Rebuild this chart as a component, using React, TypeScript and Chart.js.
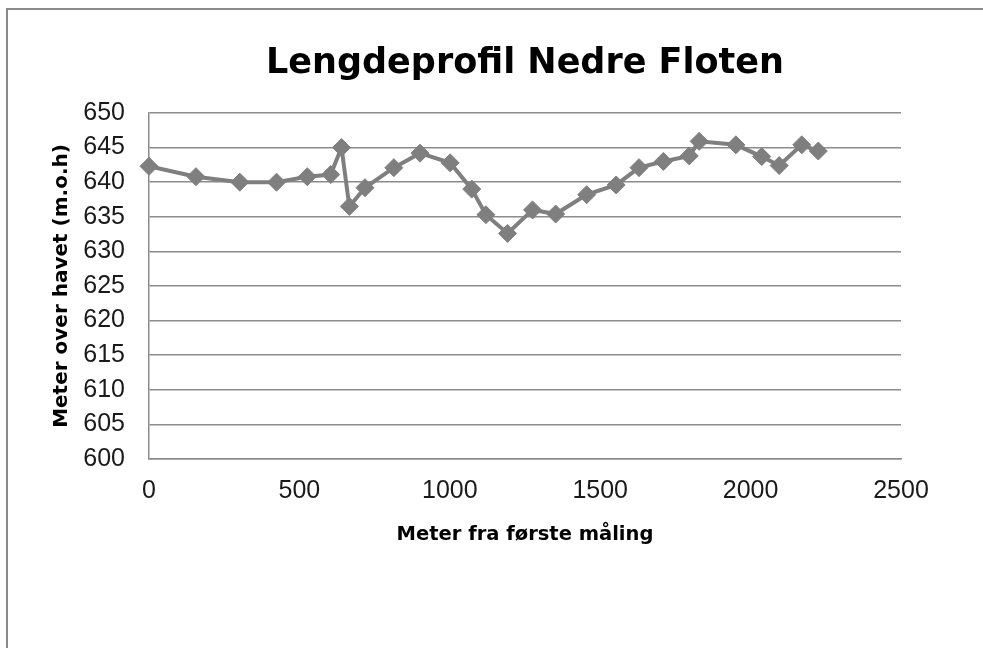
import React, { useEffect, useRef } from "react";
import { Chart, registerables } from "chart.js";

Chart.register(...registerables);

const chartTitle = "Lengdeprofil Nedre Floten";
const xAxisTitle = "Meter fra første måling";
const yAxisTitle = "Meter over havet (m.o.h)";

const distances = [0, 156, 302, 424, 526, 604, 640, 666, 718, 814, 901, 1001, 1073, 1120, 1192, 1275, 1352, 1455, 1553, 1629, 1710, 1796, 1829, 1951, 2037, 2095, 2170, 2225];
const elevations = [642.3, 640.8, 640.0, 640.0, 640.8, 641.1, 645.0, 636.5, 639.2, 642.1, 644.2, 642.8, 639.0, 635.3, 632.6, 636.0, 635.4, 638.2, 639.6, 642.1, 643.0, 643.8, 645.9, 645.4, 643.7, 642.4, 645.4, 644.5];

const xMin = 0;
const xMax = 2500;
const xStep = 500;
const yMin = 600;
const yMax = 650;
const yStep = 5;

export default function App() {
  const ref = useRef<HTMLCanvasElement | null>(null);

  useEffect(() => {
    if (!ref.current) return;
    const points = distances.map((d, i) => ({ x: d, y: elevations[i] }));
    const chart = new Chart(ref.current, {
      type: "line",
      data: {
        datasets: [
          {
            data: points,
            borderColor: "#7f7f7f",
            backgroundColor: "#7f7f7f",
            borderWidth: 4,
            pointStyle: "rectRot",
            pointRadius: 9,
            pointBorderWidth: 1,
            pointBackgroundColor: "#7f7f7f",
            pointBorderColor: "#7f7f7f",
            tension: 0,
            clip: false,
          },
        ],
      },
      options: {
        animation: false,
        responsive: false,
        maintainAspectRatio: false,
        layout: { padding: { left: 0, right: 82, top: 0, bottom: 0 } },
        plugins: {
          legend: { display: false },
          tooltip: { enabled: false },
          title: {
            display: true,
            text: chartTitle,
            fullSize: false,
            color: "#000000",
            font: { family: "'DejaVu Sans'", size: 35, weight: "bold", lineHeight: 1.2 },
            padding: { top: 43, bottom: 28 },
          },
        },
        scales: {
          x: {
            type: "linear",
            min: xMin,
            max: xMax,
            ticks: {
              stepSize: xStep,
              color: "#1a1a1a",
              padding: 17,
              maxRotation: 0,
              font: { family: "'Liberation Sans'", size: 25 },
              callback: (v: any) => String(v),
            },
            grid: { display: false, drawTicks: false },
            border: { display: true, color: "#8c8c8c", width: 1.5 },
            title: {
              display: true,
              text: xAxisTitle,
              color: "#000000",
              font: { family: "'DejaVu Sans'", size: 19.5, weight: "bold", lineHeight: 1.2 },
              padding: { top: 0, bottom: 101 },
            },
            afterFit: (scale: any) => {
              scale.height = 189;
            },
          },
          y: {
            type: "linear",
            min: yMin,
            max: yMax,
            ticks: {
              stepSize: yStep,
              color: "#1a1a1a",
              padding: 24,
              font: { family: "'Liberation Sans'", size: 25 },
              callback: (v: any) => String(v),
            },
            grid: { display: true, color: "#8c8c8c", lineWidth: 1.5, drawTicks: false },
            border: { display: true, color: "#8c8c8c", width: 1.5 },
            title: {
              display: true,
              text: yAxisTitle,
              color: "#000000",
              font: { family: "'DejaVu Sans'", size: 20, weight: "bold", lineHeight: 1.2 },
              padding: { top: 50, bottom: 0 },
            },
            afterFit: (scale: any) => {
              scale.width = 149;
            },
          },
        },
      },
    });
    return () => chart.destroy();
  }, []);

  return (
    <div style={{ position: "fixed", left: 0, top: 0, width: 983, height: 648, background: "#ffffff", overflow: "hidden" }}>
      <canvas ref={ref} width={983} height={648} style={{ position: "absolute", left: 0, top: 0, width: 983, height: 648 }} />
      <div
        style={{
          position: "absolute",
          left: 6,
          top: 8,
          width: 1000,
          height: 700,
          borderLeft: "2px solid #8a8a8a",
          borderTop: "2px solid #8a8a8a",
          pointerEvents: "none",
        }}
      />
    </div>
  );
}
